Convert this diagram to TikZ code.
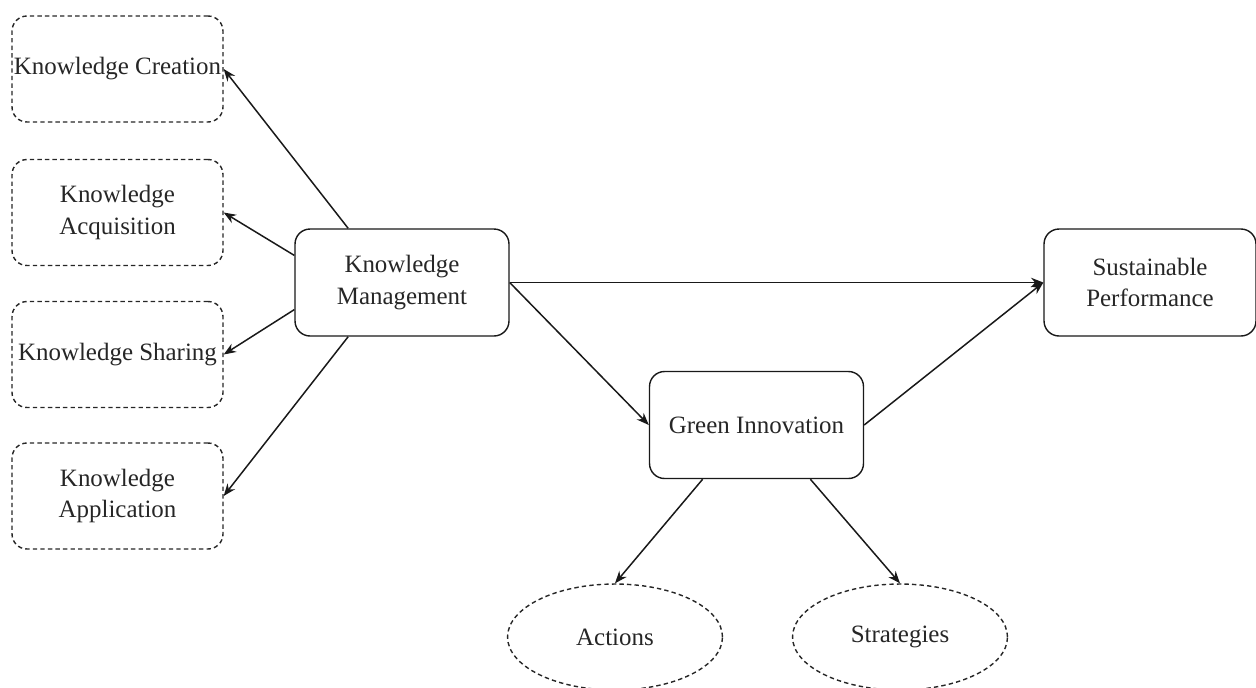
\documentclass[tikz,border=0pt]{standalone}
\usepackage{fontspec}
\newfontfamily\diagfont{Liberation Serif}
\usetikzlibrary{arrows.meta,shapes.geometric,calc}

\begin{document}
\begin{tikzpicture}[x=0.02cm, y=-0.02cm,
    every node/.style={align=center, inner sep=1pt, text=black!85, font=\diagfont\fontsize{14.2}{18.1}\selectfont},
    solidbox/.style={draw=black!90, line width=0.8pt, rounded corners=0.3cm, minimum width=4.28cm, minimum height=2.14cm},
    dashbox/.style={draw=black!85, line width=0.8pt, dash pattern=on 2.5pt off 1.8pt, rounded corners=0.3cm, minimum width=4.22cm, minimum height=2.12cm},
    dashoval/.style={ellipse, draw=black!85, line width=0.8pt, dash pattern=on 2.5pt off 1.8pt, minimum width=4.3cm, minimum height=2.12cm},
    link/.style={draw=black!90, line width=0.85pt, -{Stealth[length=7pt, width=5.4pt]}}]
    \useasboundingbox (0,0) rectangle (1256,687);
    % dimensions of knowledge management
    \node[dashbox] (0) at (117.5,69) {Knowledge Creation};
    \node[dashbox] (1) at (117.5,212.5) {Knowledge\\Acquisition};
    \node[dashbox] (2) at (117.5,354.5) {Knowledge Sharing};
    \node[dashbox] (3) at (117.5,496) {Knowledge\\Application};
    % main constructs
    \node[solidbox] (4) at (402,282.5) {Knowledge\\Management};
    \node[solidbox] (5) at (756.5,425) {Green Innovation};
    \node[solidbox, minimum width=4.24cm] (6) at (1150,282.5) {Sustainable\\Performance};
    % dimensions of green innovation
    \node[dashoval] (7) at (615,637) {Actions};
    \node[dashoval] (8) at (900,637) {Strategies};
        \draw[link] ($(4.north west)!0.25!(4.north east)$) -- (0.east);
        \draw[link] ($(4.north west)!0.25!(4.south west)$) -- (1.east);
        \draw[link] ($(4.north west)!0.75!(4.south west)$) -- (2.east);
        \draw[link] ($(4.south west)!0.25!(4.south east)$) -- (3.east);
        \draw[link] (4.east) -- (6.west);
        \draw[link] (4.east) -- (5.west);
        \draw[link] (5.east) -- (6.west);
        \draw[link] ($(5.south west)!0.25!(5.south east)$) -- (7.north);
        \draw[link] ($(5.south west)!0.75!(5.south east)$) -- (8.north);
\end{tikzpicture}
\end{document}
